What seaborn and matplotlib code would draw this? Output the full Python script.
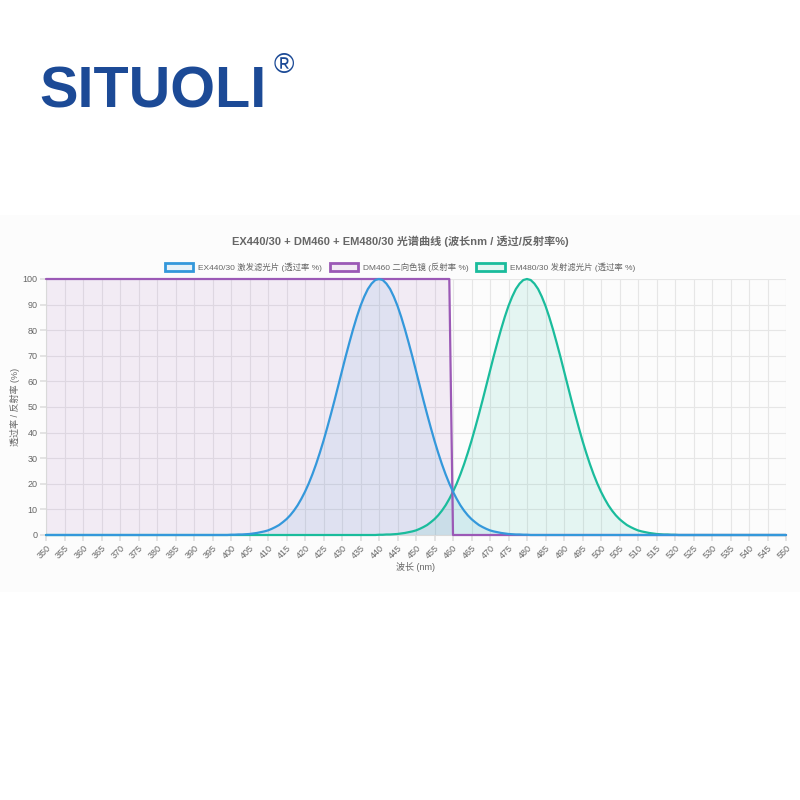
import matplotlib
matplotlib.use("Agg")
import matplotlib.pyplot as plt
import seaborn as sns
import pandas as pd
from matplotlib.patches import Patch, Rectangle
from matplotlib.colors import to_rgba

# wavelengths 350..550 nm, 1 nm step
wavelength = list(range(350, 551))

# EX440/30 transmission, 400..480 nm
ex_core = [0.1, 0.1, 0.2, 0.2, 0.3, 0.4, 0.6, 0.8, 1.1, 1.4,
           1.8, 2.4, 3.1, 3.9, 5.0, 6.2, 7.7, 9.5, 11.6, 14.1,
           16.9, 20.1, 23.7, 27.7, 32.1, 36.8, 41.9, 47.2, 52.7, 58.4,
           64.1, 69.8, 75.2, 80.4, 85.2, 89.5, 93.1, 96.1, 98.2, 99.6,
           100.0,
           99.6, 98.2, 96.1, 93.1, 89.5, 85.2, 80.4, 75.2, 69.8, 64.1,
           58.4, 52.7, 47.2, 41.9, 36.8, 32.1, 27.7, 23.7, 20.1, 16.9,
           14.1, 11.6, 9.5, 7.7, 6.2, 5.0, 3.9, 3.1, 2.4, 1.8,
           1.4, 1.1, 0.8, 0.6, 0.4, 0.3, 0.2, 0.2, 0.1, 0.1]

# EM480/30 transmission, 440..520 nm
em_core = [0.1, 0.1, 0.2, 0.2, 0.3, 0.4, 0.6, 0.8, 1.1, 1.4,
           1.8, 2.4, 3.1, 3.9, 5.0, 6.2, 7.7, 9.5, 11.6, 14.1,
           16.9, 20.1, 23.7, 27.7, 32.1, 36.8, 41.9, 47.2, 52.7, 58.4,
           64.1, 69.8, 75.2, 80.4, 85.2, 89.5, 93.1, 96.1, 98.2, 99.6,
           100.0,
           99.6, 98.2, 96.1, 93.1, 89.5, 85.2, 80.4, 75.2, 69.8, 64.1,
           58.4, 52.7, 47.2, 41.9, 36.8, 32.1, 27.7, 23.7, 20.1, 16.9,
           14.1, 11.6, 9.5, 7.7, 6.2, 5.0, 3.9, 3.1, 2.4, 1.8,
           1.4, 1.1, 0.8, 0.6, 0.4, 0.3, 0.2, 0.2, 0.1, 0.1]

ex_values = [0] * 50 + ex_core + [0] * 70      # 350-399 zero, 481-550 zero
em_values = [0] * 90 + em_core + [0] * 30      # 350-439 zero, 521-550 zero
dm_values = [100] * 110 + [0] * 91             # reflects up to 459 nm

series_names = ["EX440/30 激发滤光片 (透过率 %)",
                "DM460 二向色镜 (反射率 %)",
                "EM480/30 发射滤光片 (透过率 %)"]
series_colors = ["#3498db", "#9b59b6", "#1abc9c"]

title = "EX440/30 + DM460 + EM480/30 光谱曲线 (波长nm / 透过/反射率%)"

df = pd.DataFrame({"wl": wavelength, "ex": ex_values, "dm": dm_values, "em": em_values})

sns.set_theme(style="white")
plt.rcParams["font.family"] = ["Liberation Sans", "Noto Sans CJK SC", "DejaVu Sans"]
grey = "#666666"

fig = plt.figure(figsize=(8, 8), dpi=100)
fig.patch.set_facecolor("white")

# chart panel background
fig.patches.append(Rectangle((0, 0.26), 1, 0.47125, transform=fig.transFigure,
                             facecolor="#fcfcfc", edgecolor="none", zorder=-5))

# logo
fig.text(0.049, 0.866, "SITUOLI", fontsize=41.5, fontweight="bold", color="#1c4a96",
         va="baseline", ha="left", family="Liberation Sans")
fig.text(0.355, 0.918, "®", fontsize=20, color="#1c4a96", va="center", ha="center",
         family="Liberation Sans")

ax = fig.add_axes([0.0575, 0.33125, 0.925, 0.32])
ax.set_facecolor("none")
ax.set_zorder(2)

cols = ["ex", "dm", "em"]
zs = [6, 5, 4]
for col, name, color, z in zip(cols, series_names, series_colors, zs):
    ax.fill_between(df["wl"], df[col], 0, color=color, alpha=0.1, lw=0, zorder=1)
    sns.lineplot(data=df, x="wl", y=col, ax=ax, color=color, lw=1.6, zorder=z,
                 clip_on=False)

ax.set_xlim(350, 550)
ax.set_ylim(0, 100)
ax.set_xticks(range(350, 551, 5))
ax.set_yticks(range(0, 101, 10))
ax.grid(True, color="#e6e6e6", lw=0.8, zorder=0)
ax.set_axisbelow(True)
for s in ["top", "right"]:
    ax.spines[s].set_visible(False)
for s in ["left", "bottom"]:
    ax.spines[s].set_color("#d9d9d9")
    ax.spines[s].set_linewidth(0.8)
ax.tick_params(axis="both", length=4, color="#e0e0e0", labelsize=6.5,
               labelcolor=grey, pad=2, bottom=True, left=True)
plt.setp(ax.get_xticklabels(), rotation=45, ha="right", rotation_mode="anchor")

ax.set_xlabel("波长 (nm)", fontsize=6.5, color=grey, labelpad=1)
ax.set_ylabel("透过率 / 反射率 (%)", fontsize=6.5, color=grey, labelpad=2)

fig.text(0.5, 0.699, title, fontsize=8, fontweight="bold", color=grey,
         ha="center", va="center")

handles = [Patch(facecolor=to_rgba(c, 0.1), edgecolor=c, lw=2) for c in series_colors]
fig.legend(handles, series_names, loc="center", bbox_to_anchor=(0.5, 0.666), ncol=3,
           frameon=False, fontsize=6.0, labelcolor=grey, handlelength=3.4,
           handleheight=1.0, handletextpad=0.6, columnspacing=0.9)

fig.savefig("out.png", dpi=100)
